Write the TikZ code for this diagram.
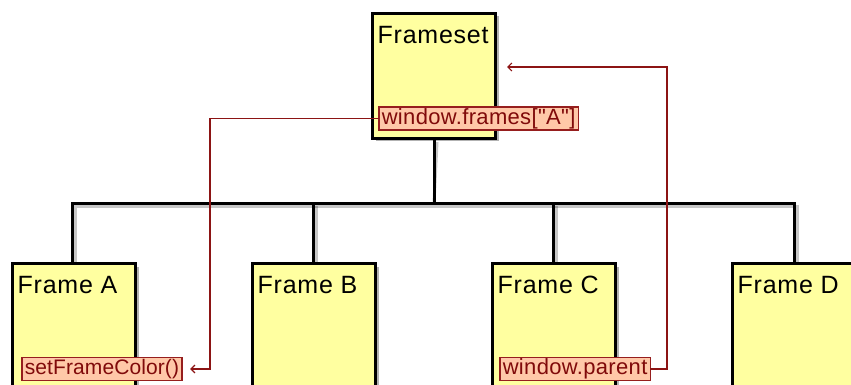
\documentclass[tikz,border=0pt]{standalone}
\usepackage{fontspec}
\setmainfont{Liberation Sans}
\newfontfamily\diagfont[LetterSpace=3]{Liberation Sans}
\newfontfamily\tagfont[LetterSpace=1.5]{Liberation Sans}
\newfontfamily\tagfontnarrow[LetterSpace=0.5]{Liberation Sans}
\usetikzlibrary{arrows.meta,shadows}
\definecolor{boxyellow}{RGB}{255,255,160}
\definecolor{tagfill}{RGB}{255,200,168}
\definecolor{tagborder}{RGB}{150,30,30}
\definecolor{tagtext}{RGB}{128,10,10}
\definecolor{linkred}{RGB}{140,20,20}
\begin{document}
\begin{tikzpicture}[x=1pt,y=-1pt,
  framebox/.style={draw=black,line width=3pt,fill=boxyellow,
    minimum width=123pt,minimum height=125pt,inner sep=0pt,outer sep=0pt,
    drop shadow={shadow xshift=3pt,shadow yshift=-3pt,opacity=0.3,fill=black}},
  titletext/.style={anchor=north west,inner sep=0pt,text height=18pt,text depth=5pt,
    font=\diagfont\fontsize{25}{28}\selectfont},
  tag/.style={draw=tagborder,line width=1.6pt,fill=tagfill,text=tagtext,anchor=west,
    inner xsep=3pt,inner ysep=0pt,minimum height=23pt,outer sep=0pt,
    font=\tagfont\fontsize{22}{24}\selectfont},
  tree/.style={draw=black,line width=3pt},
  treeshade/.style={draw=black,opacity=0.22,line width=3pt,xshift=3pt,yshift=-3pt},
  link/.style={draw=linkred,line width=1.2pt},
  linkarrow/.style={link,-{Straight Barb[length=4pt,width=8pt,line width=1.2pt]}}
]
\useasboundingbox (0,0) rectangle (851,385);
\fill[white] (0,0) rectangle (851,385);

% hierarchy connectors (shadow first, then the lines)
\coordinate (bar) at (434,203);
\foreach \s in {treeshade,tree}{
  \draw[\s] (434,139) -- (bar);
  \draw[\s] (72,262) |- (794,203) -- (794,262);
  \draw[\s] (313,203) -- (313,262);
  \draw[\s] (553,203) -- (553,262);
}

% window boxes
\node[framebox] (fs) at (434,76) {};
\node[framebox] (fa) at (74,326) {};
\node[framebox] (fb) at (314,326) {};
\node[framebox] (fc) at (554,326) {};
\node[framebox] (fd) at (794,326) {};

\node[titletext] (tfs) at ([shift={(5,12)}]fs.north west) {Frameset};
\node[titletext] (tfa) at ([shift={(5,12)}]fa.north west) {Frame A};
\node[titletext] (tfb) at ([shift={(5,12)}]fb.north west) {Frame B};
\node[titletext] (tfc) at ([shift={(5,12)}]fc.north west) {Frame C};
\node[titletext] (tfd) at ([shift={(5,12)}]fd.north west) {Frame D};

% script references
\node[tag] (wf) at (378.8,118.5) {window.frames[\symbol{34}A\symbol{34}]};
\node[tag,font=\tagfontnarrow\fontsize{21}{24}\selectfont] (sfc) at (21.8,369) {setFrameColor()};
\node[tag] (wp) at (499.8,369) {window.parent};

% reference links between the scripts
\coordinate (lx) at (210,118.5);
\coordinate (rx) at (667,67);
\coordinate (fsin) at (507,67);
\draw[linkarrow,shorten >=8pt] (wf.west) -- (wf.west -| lx) |- (sfc.east);
\draw[linkarrow] (wp.east) -| (rx) -- (fsin);
\end{tikzpicture}
\end{document}
